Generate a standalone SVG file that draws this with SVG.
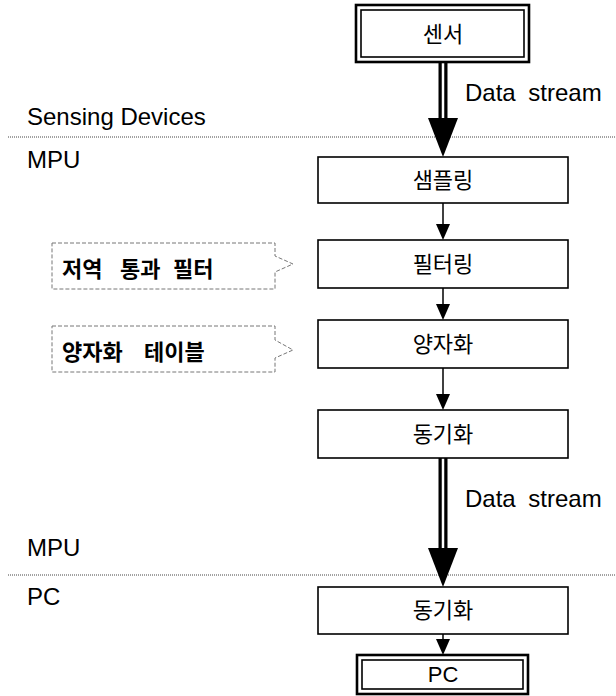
<svg xmlns="http://www.w3.org/2000/svg" width="616" height="696" viewBox="0 0 616 696">
<style>
.box{fill:#fff;stroke:#000;stroke-width:1.6}
.outer{fill:#fff;stroke:#000;stroke-width:2.6}
.inner{fill:none;stroke:#000;stroke-width:1.6}
.kt{font-family:"Noto Sans CJK KR",sans-serif;font-size:22px;fill:#000;text-anchor:middle}
.kb{font-family:"Noto Sans CJK KR",sans-serif;font-size:22px;font-weight:bold;fill:#000}
.lt{font-family:"Liberation Sans",Arial,sans-serif;font-size:24px;fill:#000}
.ct{font-family:"Liberation Sans",Arial,sans-serif;font-size:22px;fill:#000;text-anchor:middle}
.dot{stroke:#444;stroke-width:1;stroke-dasharray:1 1;fill:none}
.call{fill:#fff;stroke:#777;stroke-width:1;stroke-dasharray:4 2}
.thin{stroke:#000;stroke-width:1.5;fill:none}
.shaft{stroke:#000;stroke-width:9;fill:none}
.shaftw{stroke:#fff;stroke-width:2.5;fill:none}
</style>
<g id="dividers">
<line class="dot" x1="8" y1="137" x2="616" y2="137"/>
<line class="dot" x1="8" y1="575" x2="616" y2="575"/>
</g>
<g id="labels">
<text class="lt" x="27" y="125">Sensing Devices</text>
<text class="lt" x="27" y="168">MPU</text>
<text class="lt" x="27" y="556">MPU</text>
<text class="lt" x="27" y="605">PC</text>
<text class="lt" x="465" y="101" word-spacing="6">Data stream</text>
<text class="lt" x="465" y="507" word-spacing="6">Data stream</text>
</g>
<g id="connectors">
<line class="shaft" x1="443" y1="62" x2="443" y2="122"/>
<line class="shaftw" x1="443" y1="62" x2="443" y2="122"/>
<polygon points="428,118 458,118 443,157" fill="#000"/>
<line class="thin" x1="443" y1="203" x2="443" y2="226"/>
<polygon points="436,224 450,224 443,240" fill="#000"/>
<line class="thin" x1="443" y1="288" x2="443" y2="306"/>
<polygon points="436,304 450,304 443,320" fill="#000"/>
<line class="thin" x1="443" y1="368" x2="443" y2="396"/>
<polygon points="436,394 450,394 443,410" fill="#000"/>
<line class="shaft" x1="443" y1="458" x2="443" y2="552"/>
<line class="shaftw" x1="443" y1="458" x2="443" y2="552"/>
<polygon points="428,548 458,548 443,587" fill="#000"/>
<line class="thin" x1="443" y1="634" x2="443" y2="641"/>
<polygon points="436,639 450,639 443,655" fill="#000"/>
</g>
<g id="sensor">
<rect class="outer" x="356" y="5" width="173" height="57"/>
<rect class="inner" x="361" y="10" width="163" height="47"/>
<text class="kt" x="443" y="42">센서</text>
</g>
<g id="sampling">
<rect class="box" x="318" y="157" width="250" height="46"/>
<text class="kt" x="443" y="188">샘플링</text>
</g>
<g id="filtering">
<rect class="box" x="318" y="240" width="250" height="48"/>
<text class="kt" x="443" y="272">필터링</text>
</g>
<g id="quantize">
<rect class="box" x="318" y="320" width="250" height="48"/>
<text class="kt" x="443" y="352">양자화</text>
</g>
<g id="sync1">
<rect class="box" x="318" y="410" width="250" height="48"/>
<text class="kt" x="443" y="442">동기화</text>
</g>
<g id="sync2">
<rect class="box" x="318" y="587" width="250" height="47"/>
<text class="kt" x="443" y="618">동기화</text>
</g>
<g id="pc">
<rect class="outer" x="357" y="655" width="171" height="39"/>
<rect class="inner" x="362" y="660" width="161" height="29"/>
<text class="ct" x="443" y="682">PC</text>
</g>
<g id="lowpass">
<path class="call" d="M52,243 H275 V256 L293,264 L275,272 V289 H52 Z"/>
<text class="kb" x="62" y="277"><tspan x="62">저역</tspan><tspan x="120">통과</tspan><tspan x="173">필터</tspan></text>
</g>
<g id="qtable">
<path class="call" d="M52,326 H275 V340 L293,350 L275,358 V372 H52 Z"/>
<text class="kb" x="62" y="360"><tspan x="62">양자화</tspan><tspan x="144">테이블</tspan></text>
</g>
</svg>
